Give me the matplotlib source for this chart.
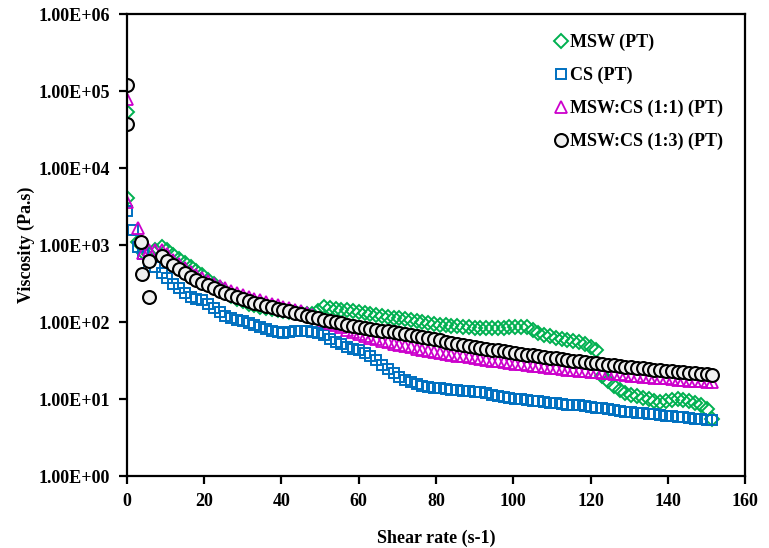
import numpy as np
import matplotlib
matplotlib.use("Agg")
import matplotlib.pyplot as plt
from matplotlib.ticker import FuncFormatter, FixedLocator

plt.rcParams['font.family'] = ['Liberation Serif', 'DejaVu Serif']
plt.rcParams['font.weight'] = 'bold'

# Regular shear-rate ramp (s-1) shared by all samples after the start-up points
shear_grid = np.arange(9.0, 151.6, 1.5)

# Start-up points (low shear) for each sample
msw_x0 = [0.0, 0.1, 2.9, 4.3, 5.7, 7.2]
msw_y0 = [5.4e4, 4.1e3, 1100, 800, 780, 880]
cs_x0 = [0.0, 1.6, 2.9, 4.2, 5.7, 7.2]
cs_y0 = [2800, 1570, 950, 780, 620, 520]
mix11_x0 = [0.0, 0.1, 2.8, 4.2, 5.6, 7.2]
mix11_y0 = [8.0e4, 3.6e3, 1650, 790, 860, 860]
mix13_x0 = [0.0, 0.1, 3.6, 4.0, 5.7, 5.8]
mix13_y0 = [1.2e5, 3.8e4, 1100, 420, 630, 210]

# Viscosity (Pa.s) along the ramp
msw_visc = [960, 860, 745, 655, 580, 515, 460, 405, 350, 310,
            275, 245, 222, 202, 186, 175, 166, 159, 153, 148,
            144, 140, 137, 134, 131, 129, 128, 140, 156, 154,
            150, 146, 142, 138, 134, 130, 127, 124, 121, 118,
            115, 112, 109, 106, 103, 100, 97, 95, 93, 91,
            89, 88, 87, 86, 85, 84, 83, 83, 84, 85,
            86, 86, 87, 86, 80, 73, 69, 66, 63, 61,
            59, 57, 55, 52, 48, 43, 20, 17.5, 15, 13.3,
            12.2, 11.5, 10.9, 10.4, 10, 9.6, 9.3, 9.5, 9.9, 10,
            9.8, 9.4, 8.9, 8.3, 7.5, 5.6]

cs_visc = [440, 375, 315, 275, 240, 215, 200, 195, 175, 155,
           135, 122, 115, 108, 104, 98, 92, 87, 82, 77,
           74, 73, 74, 76, 77, 76, 74, 72, 68, 61,
           56, 52, 48, 45, 43, 40, 36, 32, 28, 25,
           22, 19.5, 17.8, 16.5, 15.6, 15, 14.5, 14.1, 13.8, 13.5,
           13.3, 13.1, 12.9, 12.7, 12.5, 12.3, 12, 11.5, 11, 10.7,
           10.4, 10.2, 10, 9.8, 9.6, 9.4, 9.2, 9, 8.8, 8.6,
           8.5, 8.4, 8.3, 8.2, 8, 7.8, 7.6, 7.4, 7.2, 7.0,
           6.9, 6.8, 6.7, 6.6, 6.5, 6.35, 6.2, 6.1, 6.0, 5.9,
           5.8, 5.7, 5.6, 5.5, 5.4, 5.3]

mix11_visc = [880, 760, 650, 570, 505, 455, 410, 375, 345, 318,
              295, 275, 257, 241, 227, 214, 203, 192, 183, 175,
              167, 160, 153, 146, 139, 131, 123, 114, 106, 98,
              92, 86, 80, 75, 70.5, 66.5, 63, 60, 57.5, 55,
              52.5, 50.5, 48.5, 47, 45.5, 44, 42.6, 41.3, 40.1, 39,
              37.9, 36.9, 35.9, 35, 34.1, 33.3, 32.5, 31.7, 31, 30.3,
              29.6, 29, 28.4, 27.8, 27.2, 26.7, 26.2, 25.7, 25.2, 24.7,
              24.3, 23.9, 23.5, 23.1, 22.7, 22.3, 22, 21.6, 21.3, 21,
              20.6, 20.3, 20, 19.7, 19.4, 19.1, 18.8, 18.6, 18.3, 18,
              17.8, 17.5, 17.3, 17.1, 16.9, 16.7]

mix13_visc = [720, 630, 550, 485, 430, 390, 355, 325, 300, 278,
              258, 240, 225, 212, 200, 190, 180, 171, 163, 156,
              150, 144, 138, 132, 127, 122, 117, 112, 108, 104,
              100, 96.5, 93, 90, 87, 84.5, 82, 80, 78, 76,
              74, 72, 70, 68, 66, 64, 62, 60, 58, 56,
              54.5, 52.8, 51, 49.5, 48, 46.7, 45.5, 44.2, 43, 42,
              41, 40, 39, 38, 37, 36.1, 35.3, 34.5, 33.8, 33,
              32.3, 31.6, 31, 30.4, 29.8, 29.2, 28.7, 28.1, 27.6, 27.1,
              26.6, 26.1, 25.6, 25.1, 24.7, 24.3, 23.9, 23.5, 23.1, 22.7,
              22.4, 22, 21.7, 21.3, 21, 20.7]

labels = ["MSW (PT)", "CS (PT)", "MSW:CS (1:1) (PT)", "MSW:CS (1:3) (PT)"]
x_ticks = [0, 20, 40, 60, 80, 100, 120, 140, 160]
y_ticks = [1e0, 1e1, 1e2, 1e3, 1e4, 1e5, 1e6]

fig = plt.figure(figsize=(7.69, 5.48), dpi=100)
ax = fig.add_axes([0.165, 0.131, 0.804, 0.843])

series = [
    (msw_x0, msw_y0, msw_visc, dict(marker='D', ms=6.8, mfc='none', mec='#00B050', mew=1.4)),
    (cs_x0, cs_y0, cs_visc, dict(marker='s', ms=7, mfc='none', mec='#0070C0', mew=1.4)),
    (mix11_x0, mix11_y0, mix11_visc, dict(marker='^', ms=8, mfc='none', mec='#CC00CC', mew=1.3)),
    (mix13_x0, mix13_y0, mix13_visc, dict(marker='o', ms=9.3, mfc='#F0F0F0', mec='black', mew=1.5)),
]
for (x0, y0, yv, style), lab in zip(series, labels):
    xs = list(x0) + list(shear_grid)
    ys = list(y0) + list(yv)
    ax.plot(xs, ys, linestyle='none', label=lab, **style)

ax.set_yscale('log')
ax.set_xlim(0, 160)
ax.set_ylim(1, 1e6)
ax.xaxis.set_major_locator(FixedLocator(x_ticks))
ax.yaxis.set_major_locator(FixedLocator(y_ticks))
ax.yaxis.set_minor_locator(FixedLocator([]))
ax.yaxis.set_major_formatter(FuncFormatter(lambda v, p: f"{v:.2E}"))

for s in ax.spines.values():
    s.set_linewidth(1.6)
ax.tick_params(axis='both', which='major', direction='out', length=6, width=1.6,
               labelsize=13, pad=6)
for t in ax.get_xticklabels() + ax.get_yticklabels():
    t.set_fontweight('bold')

ax.set_xlabel("Shear rate (s-1)", fontsize=13, fontweight='bold', labelpad=14)
ax.set_ylabel("Viscosity (Pa.s)", fontsize=13, fontweight='bold', labelpad=3)

leg = ax.legend(loc='upper left', bbox_to_anchor=(0.673, 0.981), frameon=False,
                fontsize=13, handletextpad=0.1, handlelength=0.8,
                labelspacing=0.87, borderaxespad=0.2)
for t in leg.get_texts():
    t.set_fontweight('bold')

fig.savefig("out.png", dpi=100)
